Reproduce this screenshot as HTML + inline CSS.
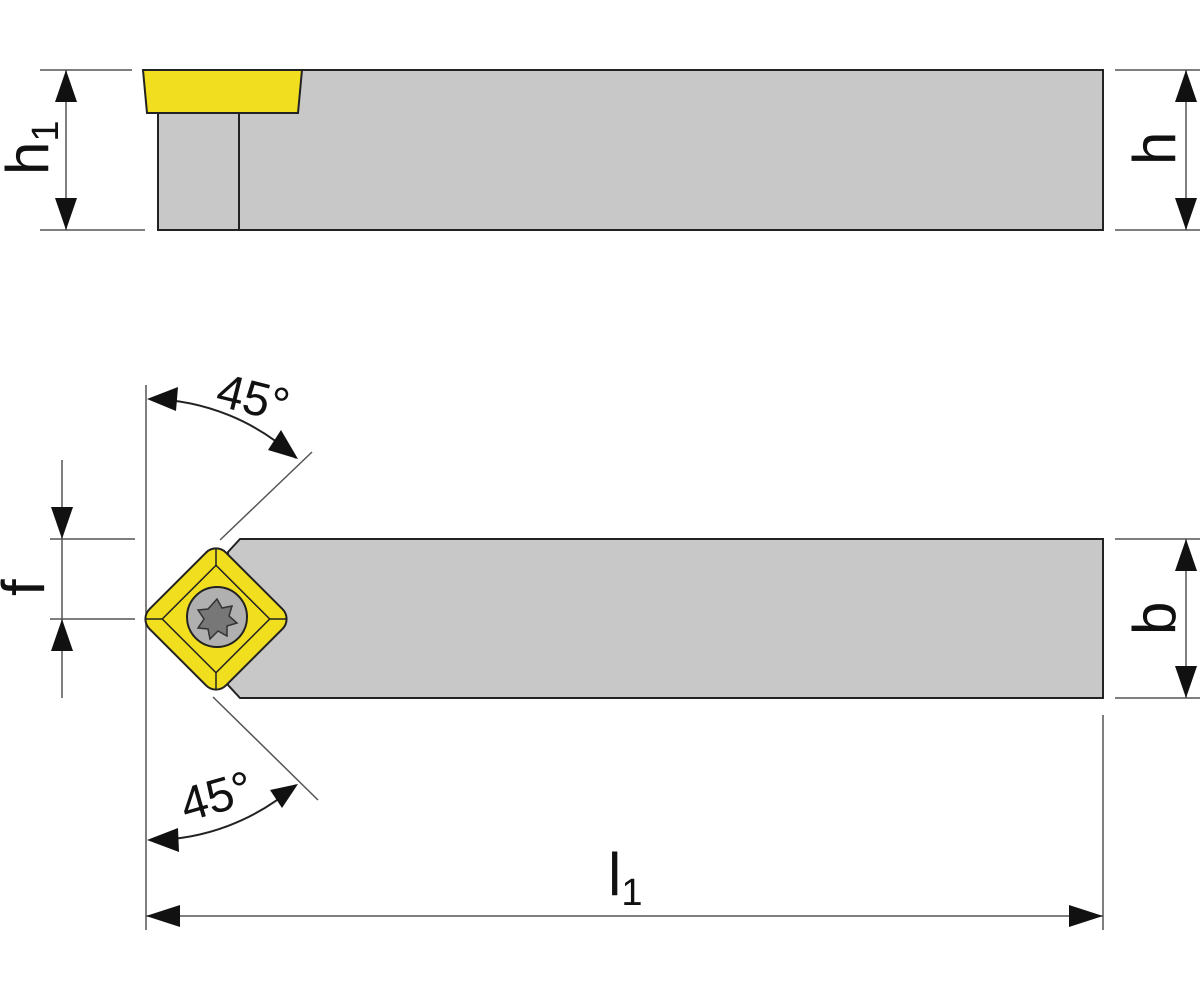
<!DOCTYPE html>
<html><head><style>html,body{margin:0;padding:0;background:#fff}svg{display:block}</style></head><body>
<svg width="1200" height="1000" viewBox="0 0 1200 1000" xmlns="http://www.w3.org/2000/svg" font-family="Liberation Sans, sans-serif">
<!-- top view -->
<rect x="158" y="70" width="945" height="160" fill="#c8c8c8" stroke="#222" stroke-width="2"/>
<line x1="239" y1="113" x2="239" y2="230" stroke="#222" stroke-width="2"/>
<polygon points="143,70 302,70 298,113 147,113" fill="#f1df1f" stroke="#222" stroke-width="2"/>
<g stroke="#555" stroke-width="1.5">
<line x1="40" y1="70" x2="132" y2="70"/><line x1="40" y1="230" x2="145" y2="230"/>
<line x1="66" y1="70" x2="66" y2="230"/>
<line x1="1115" y1="70" x2="1200" y2="70"/><line x1="1115" y1="230" x2="1200" y2="230"/>
<line x1="1186" y1="70" x2="1186" y2="230"/>
<line x1="1115" y1="539" x2="1200" y2="539"/><line x1="1115" y1="698" x2="1200" y2="698"/>
<line x1="1186" y1="539" x2="1186" y2="698"/>
<line x1="146" y1="385" x2="146" y2="930"/>
<line x1="1103" y1="715" x2="1103" y2="930"/>
<line x1="146" y1="916" x2="1103" y2="916"/>
<line x1="62" y1="460" x2="62" y2="698"/>
<line x1="50" y1="539" x2="135" y2="539"/><line x1="50" y1="619" x2="135" y2="619"/>
<line x1="312" y1="452" x2="220" y2="540"/>
<line x1="213" y1="697" x2="318" y2="800"/>
</g>
<g fill="#111">
<polygon points="66,70 55,102 77,102"/><polygon points="66,230 55,198 77,198"/>
<polygon points="1186,70 1175,102 1197,102"/><polygon points="1186,230 1175,198 1197,198"/>
<polygon points="1186,539 1175,571 1197,571"/><polygon points="1186,698 1175,666 1197,666"/>
<polygon points="62,539 51,507 73,507"/><polygon points="62,619 51,651 73,651"/>
<polygon points="146,916 180,905 180,927"/><polygon points="1103,916 1069,905 1069,927"/>
</g>
<path d="M150,399 A220,220 0 0 1 296,458" fill="none" stroke="#222" stroke-width="2"/>
<polygon points="147,399 178,387 176,411" fill="#111"/>
<polygon points="298,459 268,450 281,430" fill="#111"/>
<path d="M150,840 A220,220 0 0 0 296,785" fill="none" stroke="#222" stroke-width="2"/>
<polygon points="147,840 178,828 179,852" fill="#111"/>
<polygon points="298,784 282,808 270,790" fill="#111"/>
<polygon points="240,539 1103,539 1103,698 240,698 228,685 228,552" fill="#c8c8c8" stroke="#222" stroke-width="2"/>
<g transform="translate(216,619) rotate(45)">
<rect x="-54" y="-54" width="108" height="108" rx="14" fill="#f1df1f" stroke="#222" stroke-width="2"/>
<rect x="-38" y="-38" width="76" height="76" fill="none" stroke="#222" stroke-width="1.5"/>
<g stroke="#222" stroke-width="1.5"><line x1="-50" y1="-50" x2="-38" y2="-38"/><line x1="50" y1="-50" x2="38" y2="-38"/><line x1="-50" y1="50" x2="-38" y2="38"/><line x1="50" y1="50" x2="38" y2="38"/></g>
</g>
<circle cx="217" cy="617" r="30" fill="#b0b0b0" stroke="#222" stroke-width="2"/>
<path d="M217,599 l5,9 10,-2 -3,10 8,7 -10,3 0,10 -9,-5 -8,8 -2,-10 -10,-1 6,-9 -6,-9 10,-1 z" fill="#777" stroke="#333" stroke-width="1.5"/>
<g fill="#111">
<text transform="translate(48,175) rotate(-90)" font-size="60">h<tspan font-size="38" dy="10">1</tspan></text>
<text transform="translate(1175,165) rotate(-90)" font-size="60">h</text>
<text transform="translate(1175,635) rotate(-90)" font-size="60">b</text>
<text transform="translate(44,596) rotate(-90)" font-size="60">f</text>
<text x="608" y="895" font-size="60">l<tspan font-size="38" dy="10">1</tspan></text>
<text transform="translate(214,405) rotate(14)" font-size="48">45°</text>
<text transform="translate(186,822) rotate(-16)" font-size="48">45°</text>
</g>
</svg>
</body></html>
